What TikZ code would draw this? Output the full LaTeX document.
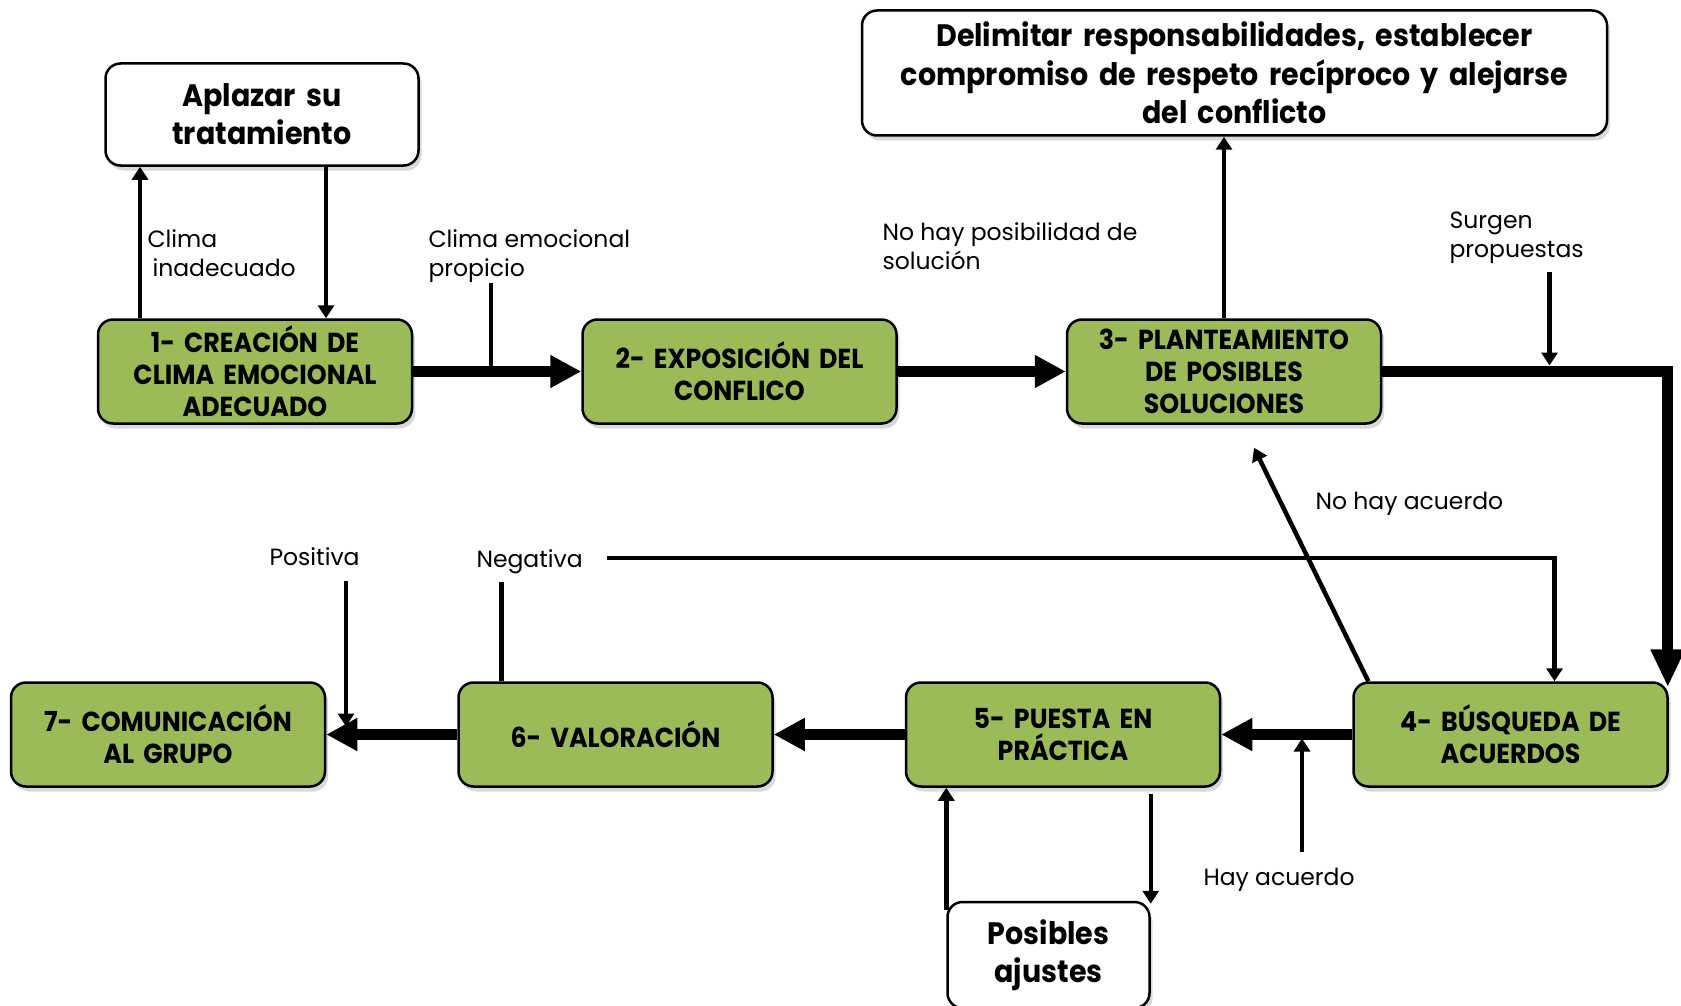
\documentclass[tikz,border=0pt]{standalone}
\usepackage{fontspec}
\setmainfont{Poppins}
\newfontfamily\boxfont{Poppins}[FakeStretch=0.92]
\newfontfamily\lblfont{Poppins}
\usetikzlibrary{positioning, shadows, arrows.meta}
\definecolor{pasogreen}{HTML}{9BBB59}

\tikzset{
every picture/.style={
line width=1pt
}}

\begin{document}
\begin{tikzpicture}[x=1pt, y=-1pt,
paso/.style = {rectangle, rounded corners=15pt, draw=black, line width=2.5pt, fill=pasogreen,
  minimum width=314pt, minimum height=104pt, text width=306pt, align=center, inner sep=0pt,
  font=\boxfont\bfseries\fontsize{27.5}{32}\selectfont,
  drop shadow={shadow xshift=3pt, shadow yshift=-5pt, opacity=.3}},
nota/.style = {paso, fill=white, font=\boxfont\bfseries\fontsize{31}{38}\selectfont},
flujo/.style = {line width=11pt, -{Triangle[length=31pt,width=31pt]}},
rama/.style = {line width=4.5pt, -{Triangle[length=13pt,width=16pt]}},
linea/.style = {line width=4.5pt},
etiq/.style = {font=\lblfont\fontsize{23.5}{29}\selectfont, align=left, inner sep=0pt, anchor=base west}]

  \useasboundingbox (0,0) rectangle (1681,1006);

  % pasos
  \node[paso] (s1) at (255,371.5) {1- CREACIÓN DE\\CLIMA EMOCIONAL\\ADECUADO};
  \node[paso, right=168pt of s1] (s2) {2- EXPOSICIÓN DEL\\CONFLICO};
  \node[paso, right=168pt of s2] (s3) {3- PLANTEAMIENTO\\DE POSIBLES\\SOLUCIONES};
  \node[paso] (s4) at (1510.5,734.5) {4- BÚSQUEDA DE\\ACUERDOS};
  \node[paso, left=131pt of s4] (s5) {5- PUESTA EN\\PRÁCTICA};
  \node[paso, left=131pt of s5] (s6) {6- VALORACIÓN};
  \node[paso, left=131pt of s6] (s7) {7- COMUNICACIÓN\\AL GRUPO};

  \node[nota, minimum width=313pt, minimum height=102pt] (apl) at (262,114.5) {Aplazar su\\tratamiento};
  \node[nota, minimum width=745pt, minimum height=125pt, text width=735pt,
    font=\boxfont\bfseries\fontsize{31}{38.5}\selectfont] (del) at (1234.5,73) {Delimitar responsabilidades, establecer\\compromiso de respeto recíproco y alejarse\\del conflicto};
  \node[nota, minimum width=202pt, minimum height=106pt, text width=195pt] (pos) at (1048.5,955) {Posibles\\ajustes};

  % etiquetas (base = ultima linea)
  \node[etiq] (l1) at (147,276) {Clima\\\hspace{5pt}inadecuado};
  \node[etiq] (l2) at (428,276) {Clima emocional\\propicio};
  \node[etiq] (l3) at (882,269) {No hay posibilidad de\\solución};
  \node[etiq] (l4) at (1449,257) {Surgen\\propuestas};
  \node[etiq] (l5) at (1315,509) {No hay acuerdo};
  \node[etiq] (l6) at (269,565) {Positiva};
  \node[etiq] (l7) at (476,567) {Negativa};
  \node[etiq] (l8) at (1203,885) {Hay acuerdo};

  % flujo principal
  \draw[flujo] (s1) -- (s2);
  \draw[flujo] (s2) -- (s3);
  \draw[flujo, -{Triangle[length=38pt,width=32pt]}] (s3.east) -| ([xshift=-1pt,yshift=-6pt]s4.north east);
  \draw[flujo] (s4) -- (s5);
  \draw[flujo] (s5) -- (s6);
  \draw[flujo] (s6) -- (s7);

  % ramas
  \coordinate (a1) at ([xshift=-115pt]s1.north);
  \coordinate (a2) at ([xshift=71pt]s1.north);
  \draw[rama] (a1) -- (a1 |- apl.south);
  \draw[rama] (a2 |- apl.south) -- (a2);

  \coordinate (b1) at (491,283);
  \draw[linea] (b1) -- (b1 |- s1.east);

  \draw[rama] (s3.north) -- (s3.north |- del.south);

  \coordinate (c1) at (1549.5,272);
  \draw[rama] (c1) -- ([yshift=6pt]c1 |- s3.east);

  \coordinate (d1) at ([xshift=16pt]s4.north west);
  \coordinate (d2) at ([xshift=30pt,yshift=-23pt]s3.south);
  \draw[rama] (d1) -- (d2);

  \coordinate (e1) at ([xshift=-114pt]s6.north);
  \coordinate (e2) at (607,558);
  \coordinate (e3) at ([xshift=44pt]s4.north);
  \draw[linea] (e1) -- (e1 |- 0,582);
  \draw[rama] (e2) -| (e3);

  \coordinate (f1) at (346,581);
  \draw[rama] (f1) -- ([yshift=8pt]f1 |- s7.east);

  \coordinate (g1) at (1302,852);
  \draw[rama] (g1) -- ([yshift=-4pt]g1 |- s4.west);

  \coordinate (h1) at ([yshift=-9pt]pos.north west);
  \coordinate (h2) at ([yshift=-3pt]pos.north east);
  \draw[rama] (h1) -- (h1 |- s5.south);
  \draw[rama] ([yshift=-6pt]h2 |- s5.south) -- (h2);

\end{tikzpicture}
\end{document}
